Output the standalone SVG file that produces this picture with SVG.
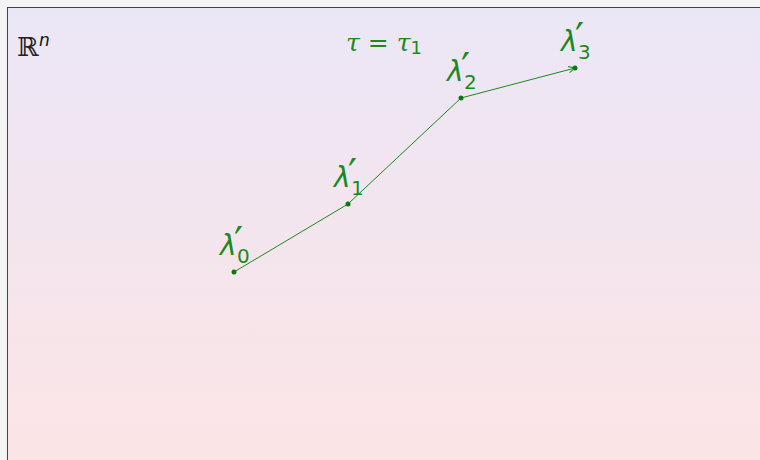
<svg xmlns="http://www.w3.org/2000/svg" width="760" height="460" viewBox="0 0 760 460">
<defs>
<linearGradient id="bg" x1="0" y1="0" x2="0" y2="1">
<stop offset="0" stop-color="#ebe6f6"/>
<stop offset="1" stop-color="#fce4e5"/>
</linearGradient>
<marker id="arr" viewBox="0 0 10 10" refX="9" refY="5" markerWidth="8" markerHeight="8" markerUnits="userSpaceOnUse" orient="auto">
<path d="M1,1 L9,5 L1,9" fill="none" stroke="#108a10" stroke-width="1.2"/>
</marker>
<style>
.lam{font-family:"DejaVu Sans",sans-serif;fill:#1a8a1a;font-size:28px;font-style:italic}
.pr{font-style:normal;font-size:40px}
.sub{font-style:normal;font-size:20px}
.pt{fill:#0a7a0a}
.edge{stroke:#1a8a1a;stroke-width:1;fill:none}
</style>
</defs>
<rect x="0" y="0" width="760" height="460" fill="#f4f4f4"/>
<rect x="7.5" y="7.5" width="760" height="460" fill="url(#bg)" stroke="#444" stroke-width="1"/>
<text x="17" y="56" font-family="DejaVu Serif,serif" font-size="26" fill="#222">ℝ<tspan x="39" y="46" font-family="DejaVu Sans,sans-serif" font-style="italic" font-size="17" fill="#111">n</tspan></text>
<text x="346" y="51" font-family="DejaVu Serif,serif" font-size="25" font-style="italic" fill="#1a8a1a">τ <tspan font-style="normal">=</tspan> τ<tspan font-family="DejaVu Sans,sans-serif" font-style="normal" font-size="18" dy="3">1</tspan></text>
<g id="connectors">
<polyline class="edge" points="234,272 348,204 461,98"/>
<line class="edge" x1="461" y1="98" x2="575" y2="68" marker-end="url(#arr)"/>
</g>
<g id="l0"><circle class="pt" cx="234" cy="272" r="2.5"/><text class="lam" x="220" y="255">λ<tspan class="pr" x="234" y="256">′</tspan><tspan class="sub" x="237" y="263">0</tspan></text></g>
<g id="l1"><circle class="pt" cx="348" cy="204" r="2.5"/><text class="lam" x="334" y="187">λ<tspan class="pr" x="348" y="188">′</tspan><tspan class="sub" x="351" y="195">1</tspan></text></g>
<g id="l2"><circle class="pt" cx="461" cy="98" r="2.5"/><text class="lam" x="447" y="81">λ<tspan class="pr" x="461" y="82">′</tspan><tspan class="sub" x="464" y="89">2</tspan></text></g>
<g id="l3"><circle class="pt" cx="575" cy="68" r="2.5"/><text class="lam" x="561" y="51">λ<tspan class="pr" x="575" y="52">′</tspan><tspan class="sub" x="578" y="59">3</tspan></text></g>
</svg>
